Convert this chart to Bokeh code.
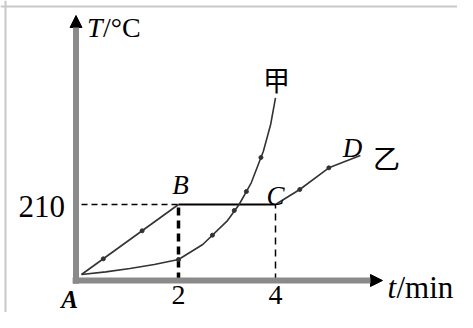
from bokeh.plotting import figure
from bokeh.models import Arrow, NormalHead, Span, Range1d
from bokeh.embed import file_html
from bokeh.resources import INLINE
from bokeh.core.properties import value

# ---- data (t in min, T in deg C) ----
x_ticks = [2, 4]
x_tick_labels = ["2", "4"]
y_ticks = [210]
y_tick_labels = ["210"]

ab_t = [0, 2]
ab_T = [0, 210]
ab_dot_t = [0.45, 1.25]
ab_dot_T = [47, 131]

bc_t = [2, 4]
bc_T = [210, 210]

jia_t = [0, 0.5, 1.0, 1.5, 2.0, 2.5, 3.0, 3.25, 3.5, 3.75, 3.9, 4.0]
jia_T = [0, 8, 18, 30, 45, 90, 160, 210, 275, 370, 450, 530]
jia_dot_t = [2.0, 2.7, 3.15, 3.4, 3.7]
jia_dot_T = [45, 118, 192, 249, 351]

yi_t = [4.0, 4.5, 5.1, 5.75]
yi_T = [210, 255, 320, 357]
yi_dot_t = [4.5, 5.1]
yi_dot_T = [255, 320]

# ---- figure ----
W, H = 457, 312
PX_T = 48.5   # px per minute
x0_px, y0_px = 81, 274
x_start, x_end = -x0_px / PX_T, (W - x0_px) / PX_T
y_end, y_start = y0_px * 3, -(H - y0_px) * 3

p = figure(width=W, height=H, output_backend="svg", toolbar_location=None,
           x_range=Range1d(x_start, x_end), y_range=Range1d(y_start, y_end),
           x_axis_location=None, y_axis_location=None, min_border=0,
           tools="")
p.grid.visible = False
p.outline_line_color = None
p.background_fill_color = "white"
p.border_fill_color = "white"

# light frame lines (left/top)
p.add_layout(Span(location=x_start + 5 / PX_T, dimension="height", line_color="#c8c8c8", line_width=2))
p.add_layout(Span(location=y_end - 6 * 3, dimension="width", line_color="#c8c8c8", line_width=2))

axis_t = -0.113
axis_T = -18
serif = value("Liberation Serif")

# axes with arrows
p.add_layout(Arrow(x_start=axis_t - 0.07, y_start=axis_T, x_end=6.206, y_end=axis_T,
                   line_color="#8a8a8a", line_width=6,
                   end=NormalHead(size=12, fill_color="black", line_color="black")))
p.add_layout(Arrow(x_start=axis_t, y_start=axis_T - 10, x_end=axis_t, y_end=777,
                   line_color="#8a8a8a", line_width=6,
                   end=NormalHead(size=12, fill_color="black", line_color="black")))

# dashed guides
p.line(x=[0, ab_t[-1]], y=[y_ticks[0], y_ticks[0]], line_color="black", line_width=1.5, line_dash="6 4")
p.line(x=[x_ticks[0], x_ticks[0]], y=[axis_T, y_ticks[0]], line_color="black", line_width=3.5, line_dash="8 5")
p.line(x=[x_ticks[1], x_ticks[1]], y=[axis_T, y_ticks[0]], line_color="black", line_width=1.5, line_dash="7 5")

# curves
p.line(x=ab_t, y=ab_T, line_color="#333333", line_width=1.6)
p.scatter(x=ab_dot_t, y=ab_dot_T, size=4, color="#333333")
p.line(x=bc_t, y=bc_T, line_color="black", line_width=2)
p.line(x=jia_t, y=jia_T, line_color="#333333", line_width=1.6)
p.scatter(x=jia_dot_t, y=jia_dot_T, size=4, color="#333333")
p.line(x=yi_t, y=yi_T, line_color="#333333", line_width=1.6)
p.scatter(x=yi_dot_t, y=yi_dot_T, size=4, color="#333333")

# tick labels
p.text(x=x_ticks, y=[axis_T] * len(x_ticks), text=x_tick_labels, text_font=serif,
       text_font_size="28px", text_align="center", text_baseline="top", y_offset=5, text_color="black")
p.text(x=[axis_t] * len(y_ticks), y=y_ticks, text=y_tick_labels, text_font=serif,
       text_font_size="31px", text_align="right", text_baseline="middle", x_offset=-11, y_offset=2,
       text_color="black")

# point labels
p.text(x=[0], y=[axis_T], text=["A"], text_font=serif, text_font_size="25px",
       text_font_style="bold italic", text_align="center", text_baseline="top", x_offset=-12, y_offset=5)
p.text(x=[ab_t[-1]], y=[ab_T[-1]], text=["B"], text_font=serif, text_font_size="27px",
       text_font_style="italic", text_align="center", text_baseline="alphabetic", x_offset=2, y_offset=-20)
p.text(x=[bc_t[-1]], y=[bc_T[-1]], text=["C"], text_font=serif, text_font_size="27px",
       text_font_style="italic", text_align="center", text_baseline="alphabetic", x_offset=0, y_offset=-9)
p.text(x=[yi_t[-1]], y=[yi_T[-1]], text=["D"], text_font=serif, text_font_size="27px",
       text_font_style="italic", text_align="center", text_baseline="alphabetic", x_offset=-8, y_offset=-8)

cjk = value("Noto Sans CJK SC")
p.text(x=[jia_t[-1]], y=[jia_T[-1]], text=["甲"], text_font=cjk, text_font_size="27px",
       text_align="center", text_baseline="middle", x_offset=1, y_offset=-18)
p.text(x=[yi_t[-1]], y=[yi_T[-1]], text=["乙"], text_font=cjk, text_font_size="27px",
       text_align="center", text_baseline="middle", x_offset=26, y_offset=2)

# axis titles
p.text(x=[axis_t], y=[777], text=["T"], text_font=serif, text_font_size="28px",
       text_font_style="italic", text_align="left", text_baseline="top", x_offset=11, y_offset=-4)
p.text(x=[axis_t], y=[777], text=["/°C"], text_font=serif, text_font_size="28px",
       text_align="left", text_baseline="top", x_offset=27, y_offset=-4)
p.text(x=[6.206], y=[axis_T], text=["t"], text_font=serif, text_font_size="31px",
       text_font_style="italic", text_align="left", text_baseline="alphabetic", x_offset=5, y_offset=7)
p.text(x=[6.206], y=[axis_T], text=["/min"], text_font=serif, text_font_size="31px",
       text_align="left", text_baseline="alphabetic", x_offset=14, y_offset=7)

open("out.html", "w").write(file_html(p, INLINE))
